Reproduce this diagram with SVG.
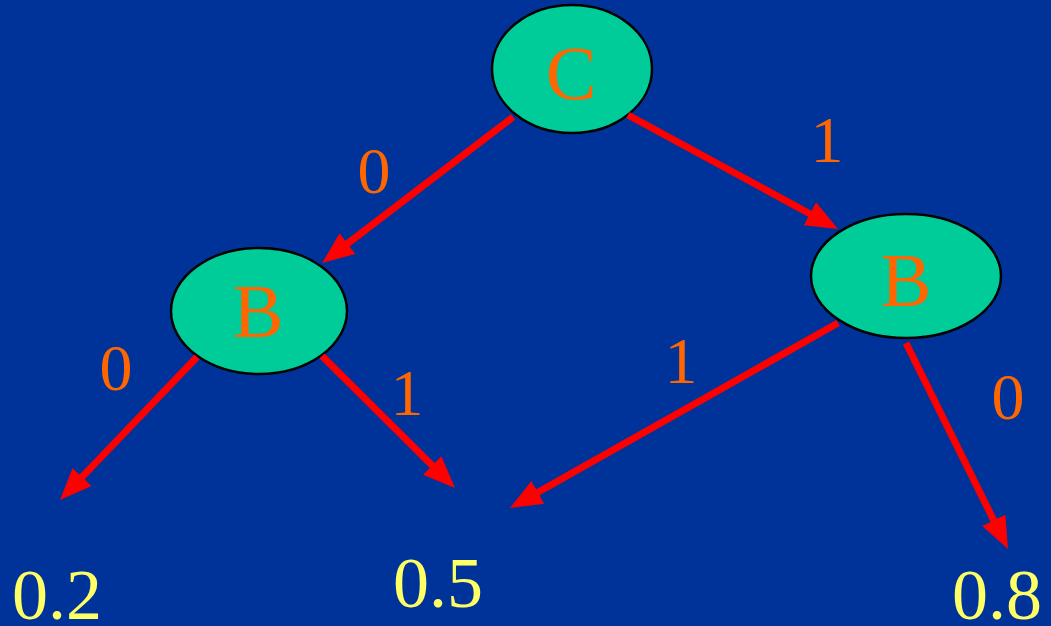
<svg xmlns="http://www.w3.org/2000/svg" width="1051" height="626" viewBox="0 0 1051 626">
<style>
.node{fill:#00CC99;stroke:#000;stroke-width:2.5}
.nt{font-family:"Liberation Serif","Times New Roman",serif;font-size:76px;fill:#FF6600;text-anchor:middle}
.lbl{font-family:"Liberation Serif","Times New Roman",serif;font-size:66px;fill:#FF6600;text-anchor:middle}
.val{font-family:"Liberation Serif","Times New Roman",serif;font-size:72px;fill:#FFFF66}
.edge{stroke:#FF0000;stroke-width:7;fill:none;marker-end:url(#ah)}
</style>
<defs>
<marker id="ah" markerUnits="userSpaceOnUse" viewBox="0 -14 32 28" refX="12" refY="0" markerWidth="32" markerHeight="28" orient="auto">
<path d="M0,-13 L32,0 L0,13 Z" fill="#FF0000"/>
</marker>
</defs>
<rect width="1051" height="626" fill="#003399"/>
<g id="node-C"><ellipse class="node" cx="572" cy="69" rx="80" ry="64"/><text class="nt" x="571" y="99">C</text></g>
<g id="node-B-left"><ellipse class="node" cx="259" cy="311" rx="88" ry="63"/><text class="nt" x="258" y="337">B</text></g>
<g id="node-B-right"><ellipse class="node" cx="906" cy="276" rx="95" ry="62"/><text class="nt" x="906" y="306">B</text></g>
<g id="connectors">
<line class="edge" x1="513" y1="117" x2="338.0" y2="250.9"/>
<line class="edge" x1="628" y1="115" x2="820.4" y2="219.5"/>
<line class="edge" x1="197" y1="357" x2="73.8" y2="485.6"/>
<line class="edge" x1="322" y1="356" x2="440.8" y2="473.9"/>
<line class="edge" x1="838" y1="323" x2="527.4" y2="498.2"/>
<line class="edge" x1="906" y1="343" x2="999.1" y2="531.1"/>
</g>
<g id="edge-labels">
<text class="lbl" x="374" y="193">0</text>
<text class="lbl" x="827" y="162">1</text>
<text class="lbl" x="116" y="390">0</text>
<text class="lbl" x="407" y="415">1</text>
<text class="lbl" x="681" y="383">1</text>
<text class="lbl" x="1008" y="419">0</text>
</g>
<g id="leaf-02"><text class="val" x="12" y="619">0.2</text></g>
<g id="leaf-05"><text class="val" x="393" y="607">0.5</text></g>
<g id="leaf-08"><text class="val" x="952" y="619">0.8</text></g>
</svg>
